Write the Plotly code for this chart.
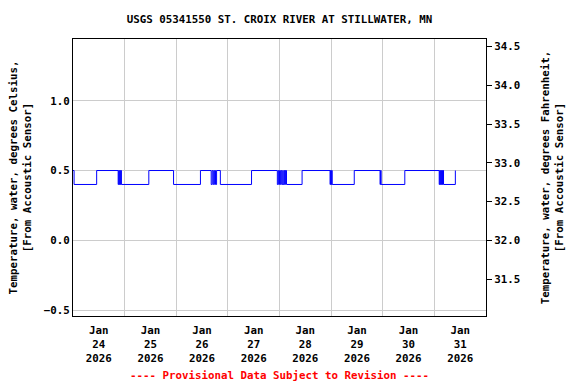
import plotly.graph_objects as go

# Change points of the 15-minute record (value holds until next change)
times = [
    "2026-01-24 00:00", "2026-01-24 00:30", "2026-01-24 11:00", "2026-01-24 21:00",
    "2026-01-24 21:15", "2026-01-24 21:30", "2026-01-24 21:45", "2026-01-24 22:00",
    "2026-01-24 22:15", "2026-01-24 22:30",
    "2026-01-25 11:15", "2026-01-25 22:45",
    "2026-01-26 11:15", "2026-01-26 16:15", "2026-01-26 16:45", "2026-01-26 17:15",
    "2026-01-26 17:45", "2026-01-26 18:15", "2026-01-26 18:45", "2026-01-26 20:30",
    "2026-01-27 11:00", "2026-01-27 23:00", "2026-01-27 23:30",
    "2026-01-28 00:00", "2026-01-28 00:30", "2026-01-28 01:00", "2026-01-28 01:30",
    "2026-01-28 01:45", "2026-01-28 02:15", "2026-01-28 02:30", "2026-01-28 02:45",
    "2026-01-28 03:15", "2026-01-28 10:30", "2026-01-28 23:30", "2026-01-28 23:45",
    "2026-01-29 00:00", "2026-01-29 00:15", "2026-01-29 00:30", "2026-01-29 10:45",
    "2026-01-29 22:45", "2026-01-29 23:00", "2026-01-29 23:15",
    "2026-01-30 10:15",
    "2026-01-31 02:15", "2026-01-31 02:30", "2026-01-31 02:45", "2026-01-31 03:00",
    "2026-01-31 03:15", "2026-01-31 03:30", "2026-01-31 03:45", "2026-01-31 04:00",
    "2026-01-31 04:15", "2026-01-31 09:45",
]
temps_c = [
    0.5, 0.4, 0.5, 0.4,
    0.5, 0.4, 0.5, 0.4,
    0.5, 0.4,
    0.5, 0.4,
    0.5, 0.4, 0.5, 0.4,
    0.5, 0.4, 0.5, 0.4,
    0.5, 0.4, 0.5,
    0.4, 0.5, 0.4, 0.5,
    0.4, 0.5, 0.4, 0.5,
    0.4, 0.5, 0.4, 0.5,
    0.4, 0.5, 0.4, 0.5,
    0.4, 0.5, 0.4,
    0.5,
    0.4, 0.5, 0.4, 0.5,
    0.4, 0.5, 0.4, 0.5,
    0.4, 0.5,
]

tick_noons = ["2026-01-%02d 12:00" % d for d in range(24, 32)]
tick_labels = ["Jan<br>%d<br>2026" % d for d in range(24, 32)]
day_starts = ["2026-01-%02d 00:00" % d for d in range(24, 32)]
c_ticks = [-0.5, 0.0, 0.5, 1.0]
f_ticks = [31.5, 32.0, 32.5, 33.0, 33.5, 34.0, 34.5]

c_range = [-0.543, 1.443]
f_range = [c_range[0] * 1.8 + 32, c_range[1] * 1.8 + 32]

FONT = dict(family="DejaVu Sans Mono", size=10.8, color="black", weight="bold")

fig = go.Figure()
fig.add_trace(go.Scatter(x=times, y=temps_c, mode="lines", line=dict(color="#0000ff", width=1, shape="hv"),
                         showlegend=False, hoverinfo="x+y"))
# invisible trace to activate the Fahrenheit axis
fig.add_trace(go.Scatter(x=[times[0]], y=[temps_c[0] * 1.8 + 32], yaxis="y2", mode="markers",
                         marker=dict(opacity=0), showlegend=False, hoverinfo="skip"))

fig.update_layout(
    width=576, height=384,
    margin=dict(l=71, r=90, t=39, b=68),
    paper_bgcolor="white", plot_bgcolor="white",
    font=FONT,
    title=dict(text="USGS 05341550 ST. CROIX RIVER AT STILLWATER, MN", x=0.5, xanchor="center",
               xref="paper", y=1 - 19 / 384, yanchor="middle", font=FONT),
    xaxis=dict(
        type="date", range=["2026-01-24 00:00", "2026-02-01 00:00"],
        tickmode="array", tickvals=tick_noons, ticktext=tick_labels,
        showgrid=False, ticks="", showline=True, linecolor="black", linewidth=1, mirror=True,
        tickfont=FONT, ticklabelstandoff=4,
        minor=dict(tickmode="array", tickvals=day_starts, showgrid=True, gridcolor="#cccccc",
                   gridwidth=1, ticks=""),
        zeroline=False,
    ),
    yaxis=dict(
        range=c_range, tickmode="array", tickvals=c_ticks, tickformat=".1f",
        showgrid=True, gridcolor="#cccccc", gridwidth=1, zeroline=False,
        showline=True, linecolor="black", linewidth=1, ticks="",
        title=dict(text="Temperature, water, degrees Celsius,<br>[From Accoustic Sensor]",
                   font=FONT, standoff=10),
        tickfont=FONT,
    ),
    yaxis2=dict(
        overlaying="y", side="right", range=f_range, tickmode="array", tickvals=f_ticks,
        tickformat=".1f", showgrid=False, zeroline=False, showline=True, linecolor="black",
        linewidth=1, ticks="outside", ticklen=5, tickcolor="black",
        title=dict(text="Temperature, water, degrees Fahrenheit,<br>[From Accoustic Sensor]",
                   font=FONT, standoff=22),
        tickfont=FONT,
    ),
    annotations=[dict(text="---- Provisional Data Subject to Revision ----", x=0.5, xref="paper",
                      y=-59 / 277, yref="paper", yanchor="middle", showarrow=False,
                      font=dict(family="DejaVu Sans Mono", size=10.8, color="red", weight="bold"))],
)

fig.write_html("out.html", config={"displayModeBar": False},
               post_script="document.body.style.margin='0';document.body.style.overflow='hidden';")
